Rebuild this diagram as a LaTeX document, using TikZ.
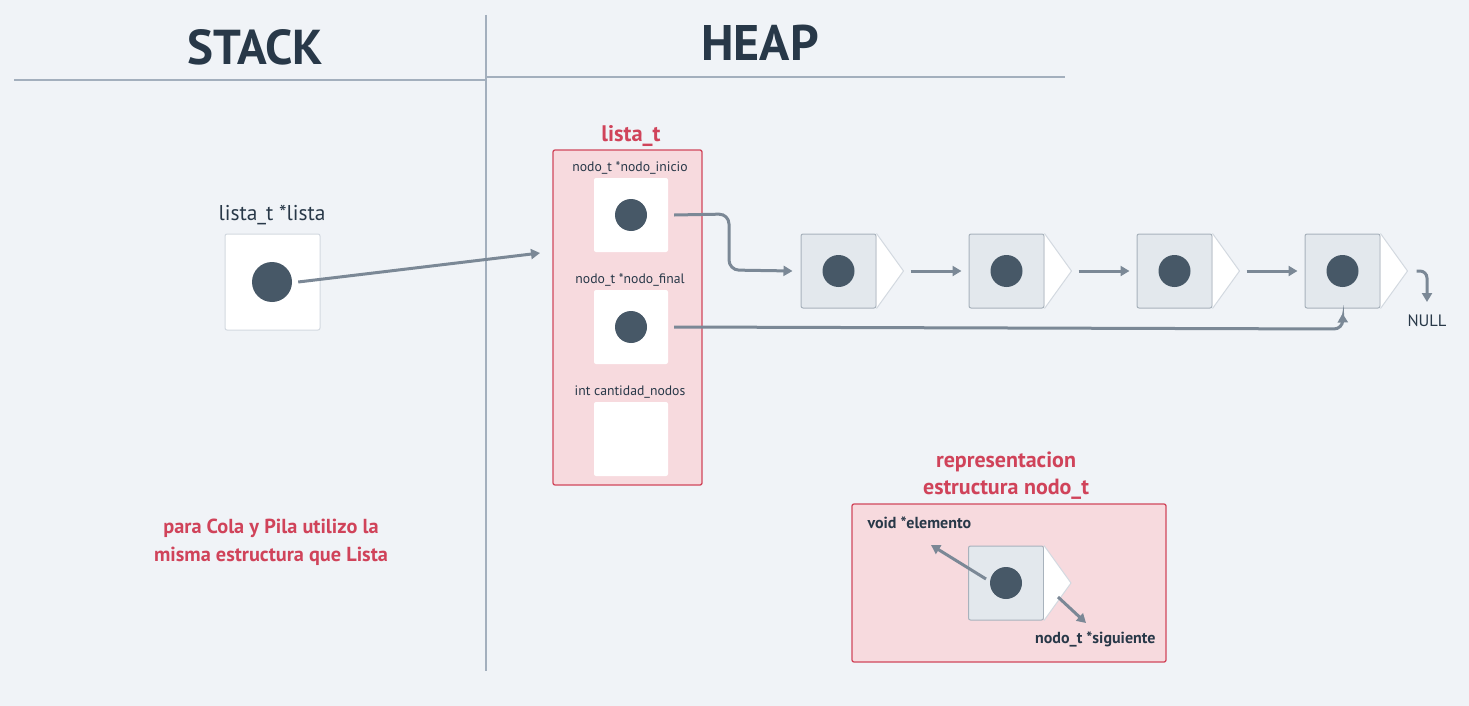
\documentclass[tikz,border=0pt]{standalone}
\usepackage{fontspec}
\setmainfont{PT Sans}
\usetikzlibrary{arrows.meta,calc}
\definecolor{bg}{HTML}{F0F3F7}
\definecolor{rule}{HTML}{A3AFBD}
\definecolor{ink}{HTML}{283848}
\definecolor{redtxt}{HTML}{D0435A}
\definecolor{pinkfill}{HTML}{F7DADE}
\definecolor{pinkline}{HTML}{D1475C}
\definecolor{dotc}{HTML}{475867}
\definecolor{arrc}{HTML}{7B8896}
\definecolor{cellfill}{HTML}{E3E8ED}
\definecolor{cellline}{HTML}{A8B2BC}
\definecolor{boxline}{HTML}{D3D9E0}
\tikzset{
  rulel/.style={draw=rule, line width=1.3pt},
  heading/.style={text=ink, font=\fontsize{49}{52}\selectfont\bfseries},
  ptrbox/.style={draw=boxline, fill=white, line width=1pt, rounded corners=2pt, minimum width=95pt, minimum height=96pt, inner sep=0pt},
  field/.style={fill=white, rounded corners=2pt, minimum width=74pt, minimum height=74pt, inner sep=0pt},
  structbox/.style={draw=pinkline, fill=pinkfill, line width=1.3pt, rounded corners=2pt, inner sep=0pt},
  cell/.style={draw=cellline, fill=cellfill, line width=1pt, rounded corners=2pt, minimum width=75pt, minimum height=74pt, inner sep=0pt},
  tipfill/.style={draw=boxline, fill=white, line width=1pt, line join=round},
  dot/.style={circle, fill=dotc, minimum size=32pt, inner sep=0pt},
  bigdot/.style={circle, fill=dotc, minimum size=40pt, inner sep=0pt},
  arr/.style={draw=arrc, line width=3pt, -{Triangle[length=9pt,width=10pt]}},
  fieldlbl/.style={text=ink, font=\fontsize{13.7}{15}\selectfont},
  redlbl/.style={text=redtxt, font=\fontsize{22}{27}\selectfont\bfseries, align=center},
  darklbl/.style={text=ink, font=\fontsize{16}{18}\selectfont\bfseries},
}
\begin{document}
\begin{tikzpicture}[x=1pt,y=-1pt]
\fill[bg] (0,0) rectangle (1469,706);
\useasboundingbox (0,0) rectangle (1469,706);

% section rules and headings
\draw[rulel] (14,80) -- (486,80);
\draw[rulel] (486,77) -- (1065,77);
\draw[rulel] (486,15) -- (486,671);
\node[heading] (stack) at (255,47) {STACK};
\node[heading, font=\fontsize{50}{52}\selectfont\bfseries] (heap) at (760,43) {HEAP};

% stack pointer
\node[ptrbox] (sbox) at (272.5,282) {};
\node[bigdot] (sdot) at (272,282) {};
\node[text=ink, font=\fontsize{21.4}{24}\selectfont] (slbl) at (272,215) {lista\_t *lista};

% lista_t struct
\node[structbox, minimum width=149pt, minimum height=335pt] (lst) at (627.5,317.5) {};
\node[redlbl, font=\fontsize{22.5}{24}\selectfont\bfseries] (lsttitle) at (631,136) {lista\_t};
\node[field] (f1) at (631,215) {};
\node[field] (f2) at (631,327) {};
\node[field] (f3) at (631,439) {};
\node[fieldlbl] (f1l) at (630,168) {nodo\_t *nodo\_inicio};
\node[fieldlbl] (f2l) at (630,280) {nodo\_t *nodo\_final};
\node[fieldlbl] (f3l) at (630,392) {int cantidad\_nodos};
\node[dot] (d1) at (631,215) {};
\node[dot] (d2) at (631,327) {};

% linked nodes
\foreach \i/\x in {1/838.5,2/1006.5,3/1174.5,4/1342.5}{
  \node[cell] (n\i) at (\x,271) {};
  \draw[tipfill] (n\i.north east) -- ($(n\i.east)+(27,0)$) coordinate (t\i) -- (n\i.south east);
  \node[dot] (nd\i) at (\x,271) {};
}
\draw[arr] ($(t1)+(7,0)$) -- ($(n2.west)+(-7,0)$);
\draw[arr] ($(t2)+(7,0)$) -- ($(n3.west)+(-7,0)$);
\draw[arr] ($(t3)+(7,0)$) -- ($(n4.west)+(-7,0)$);

\node[text=ink, font=\fontsize{16.5}{18}\selectfont] (null) at (1427,321) {NULL};
\coordinate (nullend) at (1427,302);
\draw[arr, rounded corners=7pt] ($(t4)+(9,0)$) -- (1427,271) -- (nullend);
\coordinate (sdend) at (540,253);
\draw[arr] (sdot.east) ++(6,0) -- (sdend);
\draw[arr, rounded corners=10pt] ($(f1.east)+(6,0)$) -- (729,214) -- (729,270) -- ($(n1.west)+(-8,0)$);
\draw[arr, rounded corners=9pt] ($(f2.east)+(6,0)$) -- (1343,329) -- ($(n4.south)+(0,5)$);

% nodo_t legend
\node[redlbl] (legtitle) at (1006,476) {representacion\\estructura nodo\_t};
\node[structbox, minimum width=314pt, minimum height=158pt] (leg) at (1009,583) {};
\node[cell] (ln) at (1006,583) {};
\draw[tipfill] (ln.north east) -- ($(ln.east)+(27,0)$) coordinate (lt) -- (ln.south east);
\node[dot] (lnd) at (1006,583) {};
\node[darklbl, anchor=west] (elem) at (864,523) {void *elemento};
\node[darklbl, anchor=east] (sig) at (1159,639) {nodo\_t *siguiente};
\coordinate (elemend) at (931,545);
\coordinate (sigend) at (1086,623);
\draw[arr] (986,579) -- (elemend);
\draw[arr] (1058,597) -- (sigend);

% note
\node[redlbl, font=\fontsize{20.3}{28}\selectfont\bfseries] (note) at (271,542) {para Cola y Pila utilizo la\\misma estructura que Lista};
\end{tikzpicture}
\end{document}
